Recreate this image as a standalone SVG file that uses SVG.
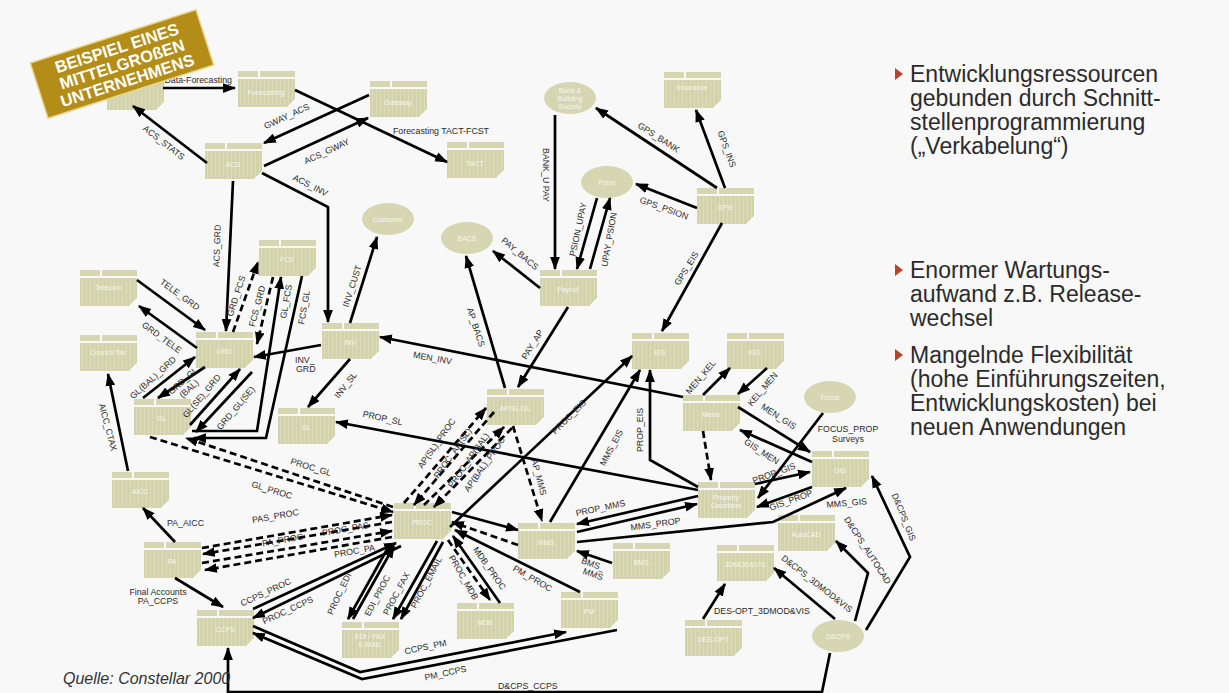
<svg xmlns="http://www.w3.org/2000/svg" xmlns:xlink="http://www.w3.org/1999/xlink" width="1229" height="693" viewBox="0 0 1229 693">
<defs>
  <pattern id="stripe" width="4" height="4" patternUnits="userSpaceOnUse">
    <rect width="4" height="4" fill="#d3d3ab"/>
    <rect x="2" width="1" height="4" fill="#dcdcbd"/>
  </pattern>
  <marker id="ah" viewBox="0 0 12 9" refX="11" refY="4.5" markerWidth="13" markerHeight="10" markerUnits="userSpaceOnUse" orient="auto">
    <path d="M0,0 L12,4.5 L0,9 z" fill="#000"/>
  </marker>
  <g id="box">
    <rect x="0" y="0" width="20" height="6" fill="#d6d6b2"/>
    <rect x="22" y="0" width="35" height="6" fill="#d6d6b2"/>
    <path d="M0,8 H57 V28 L49,36 H0 Z" fill="url(#stripe)"/>
    <path d="M51,35 L57,29" stroke="#fff" stroke-width="1" fill="none"/>
  </g>
  <ellipse id="oval" cx="0" cy="0" rx="26" ry="16" fill="#d6d6b2"/>
</defs>
<style>
  .c{fill:none;stroke:#000;stroke-width:2.7;marker-end:url(#ah)}
  .d{stroke-dasharray:7 4}
  .lb{font-family:"Liberation Sans",Arial,sans-serif;font-size:8.8px;fill:#2a2a2a;text-anchor:middle}
  .nl{font-family:"Liberation Sans",Arial,sans-serif;font-size:7px;fill:#fff;fill-opacity:0.8;text-anchor:middle}
  .bt{font-family:"Liberation Sans",Arial,sans-serif;font-size:23px;fill:#2b2b2b}
  .bul{fill:#b8432a}
</style>
<rect width="1229" height="693" fill="#f8f8f8"/>

<!-- systems -->
<g id="n-stats"><use xlink:href="#box" x="107" y="74"/></g>
<g id="n-forecasting"><use xlink:href="#box" x="238" y="71"/><text class="nl" x="266" y="95">Forecasting</text></g>
<g id="n-gateway"><use xlink:href="#box" x="370" y="81"/><text class="nl" x="398" y="105">Gateway</text></g>
<g id="n-acs"><use xlink:href="#box" x="205" y="143"/><text class="nl" x="233" y="167">ACS</text></g>
<g id="n-tact"><use xlink:href="#box" x="447" y="142"/><text class="nl" x="475" y="166">TACT</text></g>
<g id="n-bank"><use xlink:href="#oval" x="570" y="98"/><text class="nl" x="570" y="93">Bank &amp;</text><text class="nl" x="570" y="101">Building</text><text class="nl" x="570" y="109">Society</text></g>
<g id="n-insurance"><use xlink:href="#box" x="664" y="72"/><text class="nl" x="692" y="90">Insurance</text></g>
<g id="n-gps"><use xlink:href="#box" x="697" y="188"/><text class="nl" x="725" y="210">GPS</text></g>
<g id="n-psion"><use xlink:href="#oval" x="607" y="182"/><text class="nl" x="607" y="185">Psion</text></g>
<g id="n-customer"><use xlink:href="#oval" x="388" y="219"/><text class="nl" x="388" y="222">Customer</text></g>
<g id="n-bacs"><use xlink:href="#oval" x="467" y="238"/><text class="nl" x="467" y="241">BACS</text></g>
<g id="n-payroll"><use xlink:href="#box" x="540" y="270"/><text class="nl" x="568" y="292">Payroll</text></g>
<g id="n-telecom"><use xlink:href="#box" x="80" y="270"/><text class="nl" x="108" y="290">Telecom</text></g>
<g id="n-ctax"><use xlink:href="#box" x="80" y="335"/><text class="nl" x="108" y="355">Council Tax</text></g>
<g id="n-grd"><use xlink:href="#box" x="196" y="332"/><text class="nl" x="224" y="354">GRD</text></g>
<g id="n-fcs"><use xlink:href="#box" x="259" y="240"/><text class="nl" x="287" y="262">FCS</text></g>
<g id="n-inv"><use xlink:href="#box" x="322" y="323"/><text class="nl" x="350" y="345">INV</text></g>
<g id="n-gl"><use xlink:href="#box" x="134" y="399"/><text class="nl" x="162" y="421">GL</text></g>
<g id="n-sl"><use xlink:href="#box" x="278" y="408"/><text class="nl" x="306" y="430">SL</text></g>
<g id="n-ap"><use xlink:href="#box" x="487" y="389"/><text class="nl" x="515" y="411">AP/SL/GL</text></g>
<g id="n-eis"><use xlink:href="#box" x="632" y="333"/><text class="nl" x="660" y="355">EIS</text></g>
<g id="n-kel"><use xlink:href="#box" x="727" y="333"/><text class="nl" x="755" y="355">KEL</text></g>
<g id="n-men"><use xlink:href="#box" x="683" y="395"/><text class="nl" x="711" y="417">Menu</text></g>
<g id="n-focus"><use xlink:href="#oval" x="830" y="397"/><text class="nl" x="830" y="400">Focus</text></g>
<g id="n-gis"><use xlink:href="#box" x="812" y="451"/><text class="nl" x="840" y="473">GIS</text></g>
<g id="n-prop"><use xlink:href="#box" x="698" y="482"/><text class="nl" x="726" y="500">Property</text><text class="nl" x="726" y="508">Gazetteer</text></g>
<g id="n-autocad"><use xlink:href="#box" x="778" y="515"/><text class="nl" x="806" y="537">AutoCAD</text></g>
<g id="n-3dmod"><use xlink:href="#box" x="717" y="545"/><text class="nl" x="745" y="567">3DMOD&amp;VIS</text></g>
<g id="n-desopt"><use xlink:href="#box" x="685" y="620"/><text class="nl" x="713" y="642">DES-OPT</text></g>
<g id="n-dcps"><use xlink:href="#oval" x="838" y="636"/><text class="nl" x="838" y="639">D&amp;CPS</text></g>
<g id="n-aicc"><use xlink:href="#box" x="112" y="472"/><text class="nl" x="140" y="494">AICC</text></g>
<g id="n-pa"><use xlink:href="#box" x="144" y="542"/><text class="nl" x="172" y="564">PA</text></g>
<g id="n-ccps"><use xlink:href="#box" x="197" y="610"/><text class="nl" x="225" y="632">CCPS</text></g>
<g id="n-proc"><use xlink:href="#box" x="394" y="503"/><text class="nl" x="422" y="525">PROC</text></g>
<g id="n-mms"><use xlink:href="#box" x="518" y="523"/><text class="nl" x="546" y="545">MMS</text></g>
<g id="n-bms"><use xlink:href="#box" x="613" y="543"/><text class="nl" x="641" y="565">BMS</text></g>
<g id="n-pm"><use xlink:href="#box" x="561" y="592"/><text class="nl" x="589" y="614">PM</text></g>
<g id="n-edi"><use xlink:href="#box" x="342" y="622"/><text class="nl" x="370" y="639">EDI / FAX</text><text class="nl" x="370" y="647">E-MAIL</text></g>
<g id="n-mdb"><use xlink:href="#box" x="457" y="603"/><text class="nl" x="485" y="625">MDB</text></g>

<!-- interfaces -->
<g id="connectors">
  <path class="c" d="M163,88 H235"/>
  <path class="c" d="M295,90 L447,162"/>
  <path class="c" d="M369,95 L264,143"/>
  <path class="c" d="M264,166 L368,118"/>
  <path class="c" d="M262,173 L328,207 V322"/>
  <path class="c" d="M207,163 L133,106"/>
  <path class="c" d="M233,181 L226,331"/>
  <path class="c" d="M137,280 L205,330"/>
  <path class="c" d="M197,348 L139,306"/>
  <path class="c" d="M143,398 L195,357"/>
  <path class="c" d="M205,367 L158,398"/>
  <path class="c" d="M190,425 L240,369"/>
  <path class="c" d="M252,372 L196,432"/>
  <path class="c" d="M192,431 H257 L281,277"/>
  <path class="c" d="M302,276 L266,438 H194"/>
  <path class="c d" d="M233,332 L258,262"/>
  <path class="c d" d="M273,277 L257,344"/>
  <path class="c" d="M350,323 L377,237"/>
  <path class="c" d="M321,345 L254,357"/>
  <path class="c" d="M350,359 L308,407"/>
  <path class="c" d="M683,397 L380,337"/>
  <path class="c" d="M698,490 L336,422"/>
  <path class="c" d="M717,188 L596,108"/>
  <path class="c" d="M725,188 L696,110"/>
  <path class="c" d="M697,208 L636,184"/>
  <path class="c" d="M722,223 L662,331"/>
  <path class="c" d="M555,115 V269"/>
  <path class="c" d="M597,198 L577,269"/>
  <path class="c" d="M590,269 L610,198"/>
  <path class="c" d="M540,288 L493,251"/>
  <path class="c" d="M568,307 L518,387"/>
  <path class="c" d="M505,388 L466,256"/>
  <path class="c" d="M703,395 L730,368"/>
  <path class="c" d="M767,368 L738,394"/>
  <path class="c" d="M738,407 L810,452"/>
  <path class="c" d="M812,462 L740,430"/>
  <path class="c" d="M823,413 L758,498"/>
  <path class="c" d="M755,484 L810,472"/>
  <path class="c" d="M812,487 L757,507"/>
  <path class="c" d="M698,487 L650,460 V370"/>
  <path class="c" d="M550,522 L640,370"/>
  <path class="c" d="M450,527 L632,356"/>
  <path class="c" d="M698,496 L577,524"/>
  <path class="c" d="M577,532 L697,504"/>
  <path class="c" d="M577,542 L773,522 L846,488"/>
  <path class="c d" d="M703,431 L711,480"/>
  <path class="c" d="M855,621 L868,573 L836,541"/>
  <path class="c" d="M866,630 L910,557 L872,476"/>
  <path class="c" d="M835,619 L774,568"/>
  <path class="c" d="M703,619 L725,584"/>
  <path class="c" d="M830,653 L822,692 H228 V648"/>
  <path class="c" d="M253,626 L360,672 L566,632"/>
  <path class="c" d="M617,630 L362,679 L253,633"/>
  <path class="c" d="M580,592 L455,530"/>
  <path class="c" d="M612,563 L577,551"/>
  <path class="c" d="M175,542 L143,508"/>
  <path class="c" d="M175,578 L223,607"/>
  <path class="c" d="M128,471 L108,374"/>
  <path class="c" d="M253,609 L396,543"/>
  <path class="c" d="M401,546 L253,618"/>
  <path class="c" d="M390,544 L348,619"/>
  <path class="c" d="M353,619 L394,546"/>
  <path class="c" d="M437,541 L393,619"/>
  <path class="c" d="M443,542 L401,619"/>
  <path class="c" d="M500,603 L453,536"/>
  <path class="c d" d="M448,540 L490,600"/>
  <path class="c" d="M452,512 L518,530"/>
  <path class="c d" d="M518,545 L452,522"/>
  <path class="c d" d="M513,426 L542,521"/>
  <path class="c d" d="M393,507 L186,438"/>
  <path class="c d" d="M150,437 L393,512"/>
  <path class="c d" d="M202,548 L392,515"/>
  <path class="c d" d="M392,522 L203,554"/>
  <path class="c d" d="M202,563 L392,531"/>
  <path class="c d" d="M392,537 L205,570"/>
  <path class="c d" d="M404,503 L486,408"/>
  <path class="c d" d="M494,412 L414,505"/>
  <path class="c d" d="M424,505 L504,427"/>
  <path class="c d" d="M512,428 L434,507"/>
</g>

<!-- interface names -->
<g id="labels">
  <text class="lb" x="232" y="83" style="text-anchor:end">Data-Forecasting</text>
  <text class="lb" x="393" y="134" style="text-anchor:start">Forecasting TACT-FCST</text>
  <text class="lb" transform="translate(288,119) rotate(-25)">GWAY_ACS</text>
  <text class="lb" transform="translate(328,154) rotate(-25)">ACS_GWAY</text>
  <text class="lb" transform="translate(309,188) rotate(27)">ACS_INV</text>
  <text class="lb" transform="translate(162,145) rotate(38)">ACS_STATS</text>
  <text class="lb" transform="translate(220,246) rotate(-88)">ACS_GRD</text>
  <text class="lb" transform="translate(178,297) rotate(36)">TELE_GRD</text>
  <text class="lb" transform="translate(160,340) rotate(36)">GRD_TELE</text>
  <text class="lb" transform="translate(155,380) rotate(-42)">GL(BAL)_GRD</text>
  <text class="lb" transform="translate(185,383) rotate(-42)">GRD_GL</text>
  <text class="lb" transform="translate(191,391) rotate(-42)">(BAL)</text>
  <text class="lb" transform="translate(204,398) rotate(-50)">GL(SE)_GRD</text>
  <text class="lb" transform="translate(238,410) rotate(-50)">GRD_GL(SE)</text>
  <text class="lb" transform="translate(239,297) rotate(-72)">GRD_FCS</text>
  <text class="lb" transform="translate(260,307) rotate(-75)">FCS_GRD</text>
  <text class="lb" transform="translate(289,302) rotate(-80)">GL_FCS</text>
  <text class="lb" transform="translate(307,308) rotate(-80)">FCS_GL</text>
  <text class="lb" transform="translate(355,287) rotate(-72)">INV_CUST</text>
  <text class="lb" x="295" y="363" style="text-anchor:start">INV_</text>
  <text class="lb" x="296" y="372" style="text-anchor:start">GRD</text>
  <text class="lb" transform="translate(348,387) rotate(-52)">INV_SL</text>
  <text class="lb" transform="translate(432,361) rotate(10)">MEN_INV</text>
  <text class="lb" transform="translate(382,421) rotate(12)">PROP_SL</text>
  <text class="lb" transform="translate(657,140) rotate(33)">GPS_BANK</text>
  <text class="lb" transform="translate(724,150) rotate(70)">GPS_INS</text>
  <text class="lb" transform="translate(663,211) rotate(20)">GPS_PSION</text>
  <text class="lb" transform="translate(689,270) rotate(-58)">GPS_EIS</text>
  <text class="lb" transform="translate(543,175) rotate(90)">BANK_U PAY</text>
  <text class="lb" transform="translate(581,230) rotate(-78)">PSION_UPAY</text>
  <text class="lb" transform="translate(612,240) rotate(-80)">UPAY_PSION</text>
  <text class="lb" transform="translate(518,256) rotate(40)">PAY_BACS</text>
  <text class="lb" transform="translate(535,346) rotate(-58)">PAY_AP</text>
  <text class="lb" transform="translate(473,328) rotate(72)">AP_BACS</text>
  <text class="lb" transform="translate(703,379) rotate(-50)">MEN_KEL</text>
  <text class="lb" transform="translate(765,391) rotate(-50)">KEL_MEN</text>
  <text class="lb" transform="translate(777,419) rotate(33)">MEN_GIS</text>
  <text class="lb" transform="translate(760,454) rotate(33)">GIS_MEN</text>
  <text class="lb" x="848" y="432">FOCUS_PROP</text>
  <text class="lb" x="848" y="442">Surveys</text>
  <text class="lb" transform="translate(775,476) rotate(-20)">PROP_GIS</text>
  <text class="lb" transform="translate(792,503) rotate(-20)">GIS_PROP</text>
  <text class="lb" transform="translate(847,506) rotate(-5)">MMS_GIS</text>
  <text class="lb" transform="translate(865,552) rotate(57)">D&amp;CPS_AUTOCAD</text>
  <text class="lb" transform="translate(901,518) rotate(68)">D&amp;CPS_GIS</text>
  <text class="lb" transform="translate(815,586) rotate(38)">D&amp;CPS_3DMOD&amp;VIS</text>
  <text class="lb" x="714" y="614" style="text-anchor:start">DES-OPT_3DMOD&amp;VIS</text>
  <text class="lb" x="498" y="689" style="text-anchor:start">D&amp;CPS_CCPS</text>
  <text class="lb" transform="translate(426,650) rotate(-12)">CCPS_PM</text>
  <text class="lb" transform="translate(446,676) rotate(-12)">PM_CCPS</text>
  <text class="lb" transform="translate(531,581) rotate(30)">PM_PROC</text>
  <text class="lb" transform="translate(592,567) rotate(20)">BMS_</text>
  <text class="lb" transform="translate(592,577) rotate(20)">MMS</text>
  <text class="lb" transform="translate(601,511) rotate(-12)">PROP_MMS</text>
  <text class="lb" transform="translate(656,527) rotate(-8)">MMS_PROP</text>
  <text class="lb" transform="translate(614,449) rotate(-62)">MMS_EIS</text>
  <text class="lb" transform="translate(571,419) rotate(-45)">PROC_EIS</text>
  <text class="lb" transform="translate(643,430) rotate(-90)">PROP_EIS</text>
  <text class="lb" transform="translate(536,478) rotate(75)">AP_MMS</text>
  <text class="lb" x="167" y="526" style="text-anchor:start">PA_AICC</text>
  <text class="lb" x="158" y="595">Final Accounts</text>
  <text class="lb" x="158" y="604">PA_CCPS</text>
  <text class="lb" transform="translate(105,428) rotate(75)">AICC_CTAX</text>
  <text class="lb" transform="translate(310,470) rotate(17)">PROC_GL</text>
  <text class="lb" transform="translate(271,493) rotate(17)">GL_PROC</text>
  <text class="lb" transform="translate(276,519) rotate(-10)">PAS_PROC</text>
  <text class="lb" transform="translate(346,532) rotate(-10)">PROC_PAS</text>
  <text class="lb" transform="translate(283,543) rotate(-10)">PA_PROC</text>
  <text class="lb" transform="translate(355,554) rotate(-10)">PROC_PA</text>
  <text class="lb" transform="translate(267,595) rotate(-25)">CCPS_PROC</text>
  <text class="lb" transform="translate(289,613) rotate(-25)">PROC_CCPS</text>
  <text class="lb" transform="translate(342,595) rotate(-65)">PROC_EDI</text>
  <text class="lb" transform="translate(380,597) rotate(-62)">EDI_PROC</text>
  <text class="lb" transform="translate(399,595) rotate(-62)">PROC_FAX</text>
  <text class="lb" transform="translate(429,584) rotate(-62)">PROC_EMAIL</text>
  <text class="lb" transform="translate(461,579) rotate(60)">PROC_MDB</text>
  <text class="lb" transform="translate(487,570) rotate(55)">MDB_PROC</text>
  <text class="lb" transform="translate(439,445) rotate(-55)">AP(SL)_PROC</text>
  <text class="lb" transform="translate(455,455) rotate(-55)">PROC_AP(SL)</text>
  <text class="lb" transform="translate(471,462) rotate(-55)">PROC_AP(BAL)</text>
  <text class="lb" transform="translate(487,466) rotate(-55)">AP(BAL)_PROC</text>
</g>

<!-- banner -->
<g id="banner" transform="translate(122,64) rotate(-17.8)">
  <rect x="-87" y="-29" width="174" height="58" fill="#b38d17" stroke="#e8d48a" stroke-width="1.5"/>
  <g font-family="'Liberation Sans',Arial,sans-serif" font-weight="bold" font-size="16.5" fill="#fff" text-anchor="middle">
    <text x="0" y="-11">BEISPIEL EINES</text>
    <text x="0" y="6">MITTELGROßEN</text>
    <text x="0" y="23">UNTERNEHMENS</text>
  </g>
</g>

<text x="63" y="684" font-family="'Liberation Sans',Arial,sans-serif" font-style="italic" font-size="16" fill="#333">Quelle: Constellar 2000</text>

<!-- key points -->
<g id="notes">
  <path class="bul" d="M895,68 L903,74 L895,80 z"/>
  <text class="bt" x="910" y="82">Entwicklungsressourcen</text>
  <text class="bt" x="910" y="106">gebunden durch Schnitt-</text>
  <text class="bt" x="910" y="130">stellenprogrammierung</text>
  <text class="bt" x="910" y="154">(„Verkabelung“)</text>
  <path class="bul" d="M895,264 L903,270 L895,276 z"/>
  <text class="bt" x="910" y="278">Enormer Wartungs-</text>
  <text class="bt" x="910" y="302">aufwand z.B. Release-</text>
  <text class="bt" x="910" y="326">wechsel</text>
  <path class="bul" d="M895,349 L903,355 L895,361 z"/>
  <text class="bt" x="910" y="363">Mangelnde Flexibilität</text>
  <text class="bt" x="910" y="387">(hohe Einführungszeiten,</text>
  <text class="bt" x="910" y="411">Entwicklungskosten) bei</text>
  <text class="bt" x="910" y="435">neuen Anwendungen</text>
</g>
</svg>
